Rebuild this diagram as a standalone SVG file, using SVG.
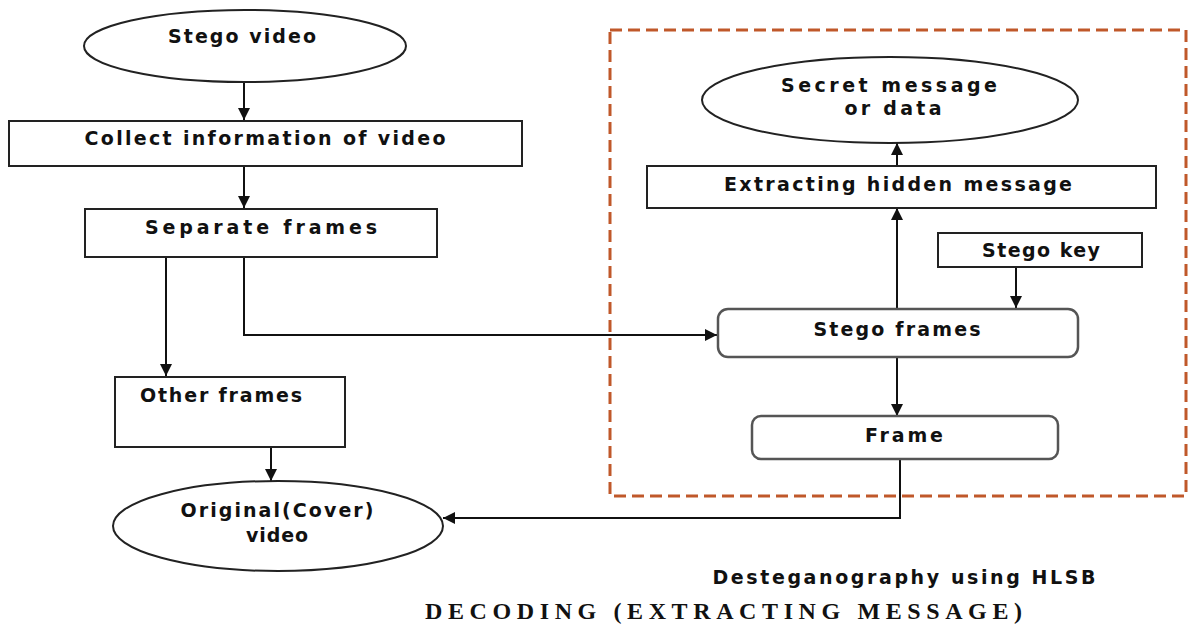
<svg xmlns="http://www.w3.org/2000/svg" width="1190" height="624" viewBox="0 0 1190 624">
<style>
.n{fill:#fff;stroke:#222;stroke-width:2}
.r{fill:#fff;stroke:#555;stroke-width:2.5}
.t{font-family:"DejaVu Sans","Liberation Sans",sans-serif;font-weight:bold;font-size:19px;fill:#111;text-anchor:middle}
.c{fill:none;stroke:#111;stroke-width:2}
.cap{font-family:"Liberation Serif","Times New Roman",serif;font-weight:bold;font-size:24px;fill:#111}
</style>
<defs>
<marker id="ah" viewBox="0 0 10 10" refX="10" refY="5" markerWidth="12" markerHeight="12" markerUnits="userSpaceOnUse" orient="auto">
<path d="M0,0 L10,5 L0,10 z" fill="#111"/>
</marker>
</defs>
<rect x="610" y="30" width="576" height="466" fill="none" stroke="#c0582a" stroke-width="3" stroke-dasharray="12,6"/>
<g id="connectors">
<line class="c" x1="244" y1="82" x2="244" y2="120" marker-end="url(#ah)"/>
<line class="c" x1="244" y1="166" x2="244" y2="208" marker-end="url(#ah)"/>
<line class="c" x1="166" y1="257" x2="166" y2="376" marker-end="url(#ah)"/>
<polyline class="c" points="244,257 244,335 717,335" marker-end="url(#ah)"/>
<line class="c" x1="271" y1="447" x2="271" y2="481" marker-end="url(#ah)"/>
<polyline class="c" points="900,459 900,518 443,518" marker-end="url(#ah)"/>
<line class="c" x1="897" y1="357" x2="897" y2="416" marker-end="url(#ah)"/>
<line class="c" x1="897" y1="308" x2="897" y2="208" marker-end="url(#ah)"/>
<line class="c" x1="897" y1="166" x2="897" y2="143" stroke="#777" marker-end="url(#ah)"/>
<line class="c" x1="1016" y1="267" x2="1016" y2="308" stroke="#666" marker-end="url(#ah)"/>
</g>
<g id="stego-video">
<ellipse class="n" cx="245" cy="46" rx="161" ry="36" stroke="#555"/>
<text class="t" x="242" y="43" textLength="148" lengthAdjust="spacing">Stego  video</text>
</g>
<g id="collect">
<rect class="n" x="9" y="121" width="513" height="45"/>
<text class="t" x="265" y="145" textLength="361" lengthAdjust="spacing">Collect  information  of  video</text>
</g>
<g id="separate">
<rect class="n" x="85" y="209" width="352" height="48"/>
<text class="t" x="261" y="234" textLength="232" lengthAdjust="spacing">Separate   frames</text>
</g>
<g id="other">
<rect class="n" x="115" y="377" width="230" height="70"/>
<text class="t" x="221" y="402" textLength="162" lengthAdjust="spacing">Other frames</text>
</g>
<g id="original">
<ellipse class="n" cx="278" cy="526" rx="165" ry="45" stroke="#555"/>
<text class="t" x="277" y="517" textLength="193" lengthAdjust="spacing">Original(Cover)</text>
<text class="t" x="277" y="542" textLength="62" lengthAdjust="spacing">video</text>
</g>
<g id="secret">
<ellipse class="n" cx="890" cy="100" rx="188" ry="43" stroke="#555"/>
<text class="t" x="889" y="92" textLength="216" lengthAdjust="spacing">Secret  message</text>
<text class="t" x="893" y="115" textLength="97" lengthAdjust="spacing">or  data</text>
</g>
<g id="extracting">
<rect class="n" x="647" y="166" width="509" height="42"/>
<text class="t" x="898" y="191" textLength="348" lengthAdjust="spacing">Extracting  hidden  message</text>
</g>
<g id="stego-key">
<rect class="n" x="938" y="233" width="204" height="34"/>
<text class="t" x="1041" y="257" textLength="118" lengthAdjust="spacing">Stego key</text>
</g>
<g id="stego-frames">
<rect class="r" x="718" y="309" width="360" height="48" rx="10"/>
<text class="t" x="897" y="336" textLength="167" lengthAdjust="spacing">Stego frames</text>
</g>
<g id="frame">
<rect class="r" x="752" y="416" width="306" height="43" rx="9"/>
<text class="t" x="904" y="442" textLength="78" lengthAdjust="spacing">Frame</text>
</g>
<text class="t" x="904" y="584" textLength="383" lengthAdjust="spacing">Desteganography  using HLSB</text>
<text class="cap" x="425" y="619" textLength="597" lengthAdjust="spacing">DECODING  (EXTRACTING MESSAGE)</text>
</svg>
